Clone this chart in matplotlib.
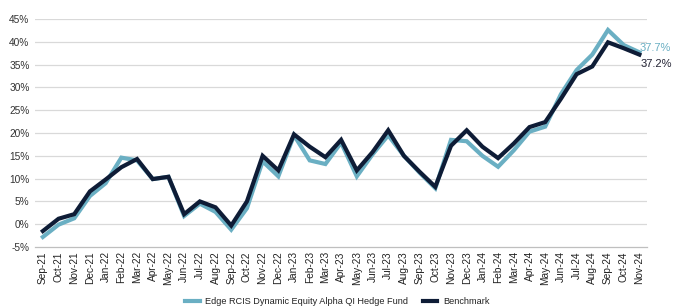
import matplotlib
matplotlib.use("Agg")
import matplotlib.pyplot as plt
from matplotlib.ticker import FuncFormatter

months = ["Sep-21","Oct-21","Nov-21","Dec-21","Jan-22","Feb-22","Mar-22","Apr-22","May-22",
          "Jun-22","Jul-22","Aug-22","Sep-22","Oct-22","Nov-22","Dec-22","Jan-23","Feb-23",
          "Mar-23","Apr-23","May-23","Jun-23","Jul-23","Aug-23","Sep-23","Oct-23","Nov-23",
          "Dec-23","Jan-24","Feb-24","Mar-24","Apr-24","May-24","Jun-24","Jul-24","Aug-24",
          "Sep-24","Oct-24","Nov-24"]

fund = [-2.8, -0.1, 1.3, 6.2, 9.0, 14.6, 14.0, 9.9, 10.4, 1.8, 4.5, 2.7, -1.2, 3.5, 13.8, 10.5,
        19.5, 14.0, 13.2, 17.9, 10.5, 15.3, 19.5, 15.0, 11.3, 7.9, 18.5, 18.2, 15.0, 12.6, 16.2,
        20.3, 21.4, 28.5, 33.8, 37.2, 42.6, 39.3, 37.7]

bench = [-1.5, 1.2, 2.2, 7.2, 9.8, 12.5, 14.3, 9.9, 10.4, 2.2, 5.0, 3.7, -0.3, 5.0, 15.0, 11.8,
         19.7, 17.0, 14.7, 18.5, 11.8, 15.8, 20.6, 15.0, 11.5, 8.2, 17.2, 20.6, 17.0, 14.5, 17.7,
         21.3, 22.4, 27.5, 32.9, 34.6, 39.9, 38.6, 37.2]

series_names = ["Edge RCIS Dynamic Equity Alpha QI Hedge Fund", "Benchmark"]
yticks = [-5, 0, 5, 10, 15, 20, 25, 30, 35, 40, 45]

c_fund = "#6aafc3"
c_bench = "#0e1c36"

plt.rcParams['font.family'] = ['Liberation Sans', 'DejaVu Sans']

fig = plt.figure(figsize=(6.81, 3.07), dpi=100)
ax = fig.add_axes([0.0514, 0.1954, 0.899, 0.7426])

x = list(range(len(months)))
ax.plot(x, fund, color=c_fund, lw=3.0, label=series_names[0], solid_joinstyle='miter', zorder=3)
ax.plot(x, bench, color=c_bench, lw=3.0, label=series_names[1], solid_joinstyle='miter', zorder=4)

ax.set_xlim(-0.5, len(months) - 0.5)
ax.set_ylim(-5, 45)
ax.set_yticks(yticks)
ax.yaxis.set_major_formatter(FuncFormatter(lambda v, p: f"{int(v)}%"))
ax.set_xticks(x)
ax.set_xticklabels(months, rotation=90, fontsize=7.3, color="#222222")
ax.tick_params(axis='y', labelsize=7.3, colors="#333333", length=0, pad=4)
ax.tick_params(axis='x', length=0, pad=3)

for y in yticks:
    if y == -5:
        continue
    ax.axhline(y, color="#d9d9d9", lw=0.9, zorder=1)
for s in ["top", "right", "left"]:
    ax.spines[s].set_visible(False)
ax.spines["bottom"].set_color("#bfbfbf")
ax.spines["bottom"].set_linewidth(0.9)

ax.annotate(f"{fund[-1]:.1f}%", xy=(x[-1], fund[-1]), xytext=(0, 3), textcoords="offset points",
            fontsize=8, color=c_fund, ha="left", va="center", annotation_clip=False)
ax.annotate(f"{bench[-1]:.1f}%", xy=(x[-1], bench[-1]), xytext=(1, -7), textcoords="offset points",
            fontsize=8, color="#222233", ha="left", va="center", annotation_clip=False)

leg = fig.legend(loc="lower center", bbox_to_anchor=(0.495, -0.025), ncol=2, frameon=False,
                 fontsize=6.6, handlelength=1.6, columnspacing=1.6, handletextpad=0.6)
for t in leg.get_texts():
    t.set_color("#222222")

fig.savefig("out.png", dpi=100)
